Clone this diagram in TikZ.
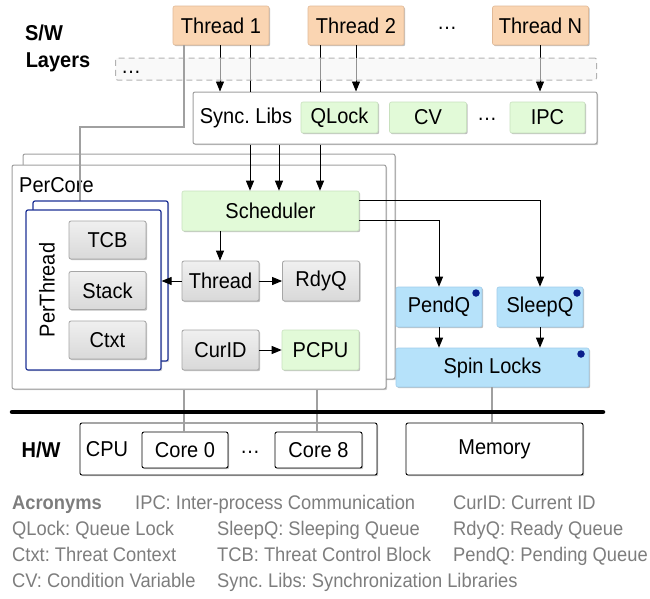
\documentclass[tikz,border=0pt]{standalone}
\usepackage{fontspec}
\setmainfont{Liberation Sans}[FakeStretch=0.93]
\usetikzlibrary{arrows.meta,shadows}
\definecolor{thrfill}{RGB}{250,213,178}
\definecolor{thrdraw}{RGB}{225,185,150}
\definecolor{grnfill}{RGB}{226,250,216}
\definecolor{grndraw}{RGB}{200,225,190}
\definecolor{blufill}{RGB}{182,226,250}
\definecolor{bludraw}{RGB}{160,205,235}
\definecolor{dotblue}{RGB}{10,30,140}
\definecolor{ptblue}{RGB}{30,50,150}
\definecolor{acrgray}{RGB}{125,125,125}
\definecolor{linegray}{RGB}{160,160,160}
\tikzset{
  base/.style={rectangle, rounded corners=2pt, inner sep=0pt, font=\fontsize{21.5}{25}\selectfont,
    drop shadow={shadow xshift=1.2pt, shadow yshift=-1.2pt, opacity=0.25, fill=black}},
  thr/.style={base, fill=thrfill, draw=thrdraw, line width=0.6pt, minimum width=96pt, minimum height=39pt},
  grn/.style={base, fill=grnfill, draw=grndraw, line width=0.6pt},
  gry/.style={base, top color=gray!12, bottom color=gray!30, draw=gray!70, line width=0.8pt, minimum width=77pt},
  blu/.style={base, fill=blufill, draw=bludraw, line width=0.6pt},
  frame/.style={rectangle, rounded corners=2pt, fill=white, draw=gray!75, line width=1pt, inner sep=0pt,
    drop shadow={shadow xshift=1.2pt, shadow yshift=-1.2pt, opacity=0.2, fill=black}},
  ptbox/.style={rectangle, rounded corners=2pt, fill=white, draw=ptblue, line width=1.2pt, inner sep=0pt,
    drop shadow={shadow xshift=1.2pt, shadow yshift=-1.2pt, opacity=0.2, fill=black}},
  hwbox/.style={rectangle, rounded corners=2pt, fill=white, draw=black, line width=0.9pt, inner sep=0pt,
    font=\fontsize{21.5}{25}\selectfont,
    drop shadow={shadow xshift=1.2pt, shadow yshift=-1.2pt, opacity=0.25, fill=black}},
  txt/.style={inner sep=0pt, font=\fontsize{21.5}{25}\selectfont},
  bold/.style={inner sep=0pt, font=\fontsize{21.5}{25}\selectfont\bfseries},
  acr/.style={inner sep=0pt, anchor=base west, text=acrgray, font=\fontsize{19.7}{23}\selectfont},
  arr/.style={-{Triangle[length=10pt,width=8pt]}, line width=0.9pt},
  gline/.style={draw=linegray, line width=1.4pt},
  dotm/.style={circle, fill=dotblue, inner sep=0pt, minimum size=7.5pt},
}
\begin{document}
\frenchspacing
\begin{tikzpicture}[x=1pt,y=-1pt]
\useasboundingbox (0,0) rectangle (650,598);
% ---------- S/W layers label
\node[bold] (sw) at (44,33) {S/W};
\node[bold] (lay) at (58,62) {Layers};
% ---------- threads
\node[thr] (t1) at (221,25.5) {Thread 1};
\node[thr] (t2) at (356,25.5) {Thread 2};
\node[txt] (tdots) at (447,28) {\dots};
\node[thr] (tN) at (540.5,25.5) {Thread N};
% ---------- sync libs
\node[frame, minimum width=404pt, minimum height=52pt] (sync) at (395,118) {};
\node[txt] (synct) at (246,118) {Sync. Libs};
\node[grn, minimum width=77pt, minimum height=31pt] (qlock) at (339.5,117.5) {QLock};
\node[grn, minimum width=77pt, minimum height=31pt] (cv) at (428,117.5) {CV};
\node[txt] (sdots) at (487,119) {\dots};
\node[grn, minimum width=75pt, minimum height=31pt] (ipc) at (547.5,117.5) {IPC};
% ---------- thread arrows (through dashed layer)
\draw[arr] (t1.south -| 220,0) -- (sync.north -| 220,0);
\draw[arr] (t2.south -| 356,0) -- (sync.north -| 356,0);
\draw[arr] (tN.south -| 540,0) -- (sync.north -| 540,0);
\draw[line width=0.9pt] (t1.south -| 250,0) -- (sync.north -| 250,0);
\draw[line width=0.9pt] (t2.south -| 320,0) -- (sync.north -| 320,0);
% dashed layer
\node[rectangle, rounded corners=2pt, draw=gray!60, dashed, dash pattern=on 6pt off 4pt, line width=1pt,
  fill=gray!8, fill opacity=0.6, minimum width=481pt, minimum height=22pt, inner sep=0pt] (dash) at (356,69) {};
\node[txt] (ddots) at (131,72) {\dots};
% ---------- PerCore
\node[frame, minimum width=372pt, minimum height=225pt] (pcback) at (209,266.5) {};
\node[frame, minimum width=374pt, minimum height=224pt] (pc) at (199,277) {};
\node[txt, anchor=west] (pct) at (19,185) {PerCore};
% Thread 1 gray link to PerThread
\draw[gline] (t1.south -| 184,0) -- (184,127) -- (80,127) -- (80,210);
% PerThread stack
\node[ptbox, minimum width=135pt, minimum height=160pt] (ptback) at (100.5,281) {};
\node[ptbox, minimum width=135pt, minimum height=160pt] (pt) at (93.5,290) {};
\node[txt, rotate=90] (ptt) at (47,290) {PerThread};
\node[gry, minimum height=38pt] (tcb) at (107.5,240) {TCB};
\node[gry, minimum height=38pt] (stack) at (107.5,290.5) {Stack};
\node[gry, minimum height=38pt] (ctxt) at (107.5,340) {Ctxt};
% scheduler etc
\node[grn, minimum width=177pt, minimum height=40pt] (sched) at (270.5,211) {Scheduler};
\node[gry, minimum height=40pt] (thread) at (220.5,281) {Thread};
\node[gry, minimum height=40pt] (rdyq) at (321,281) {RdyQ};
\node[gry, minimum height=40pt] (curid) at (220.5,350) {CurID};
\node[grn, minimum width=77pt, minimum height=40pt] (pcpu) at (320.5,350) {PCPU};
% arrows into scheduler
\draw[arr] (sync.south -| 250,0) -- (sched.north -| 250,0);
\draw[arr] (sync.south -| 279,0) -- (sched.north -| 279,0);
\draw[arr] (sync.south -| 320,0) -- (sched.north -| 320,0);
\draw[arr] (sched.south -| 220,0) -- (thread.north -| 220,0);
\draw[arr] (thread.west) -- (pt.east |- thread.west);
\draw[arr] (thread.east) -- (rdyq.west);
\draw[arr] (curid.east) -- (pcpu.west);
% ---------- queues
\node[blu, minimum width=86pt, minimum height=40pt] (pendq) at (439,307) {PendQ};
\node[blu, minimum width=86pt, minimum height=40pt] (sleepq) at (540,307) {SleepQ};
\node[blu, minimum width=193pt, minimum height=39pt] (spin) at (492.5,367.5) {Spin Locks};
\node[dotm] (d1) at (476,293) {};
\node[dotm] (d2) at (577,293) {};
\node[dotm] (d3) at (581,354) {};
\draw[arr] (sched.east |- 0,200) -- (540,200) -- (sleepq.north);
\draw[arr] (sched.east |- 0,220) -- (439,220) -- (pendq.north);
\draw[arr] (pendq.south) -- (spin.north -| pendq.south);
\draw[arr] (sleepq.south) -- (spin.north -| sleepq.south);
% ---------- hardware
\node[hwbox, minimum width=297pt, minimum height=52pt] (cpu) at (228.5,449) {};
\node[txt] (cput) at (107,449) {CPU};
\node[hwbox, minimum width=86pt, minimum height=36pt] (core0) at (185,450) {Core 0};
\node[txt] (cdots) at (250,452) {\dots};
\node[hwbox, minimum width=87pt, minimum height=36pt] (core8) at (318.5,450) {Core 8};
\node[hwbox, minimum width=177pt, minimum height=52pt] (mem) at (494.5,449) {Memory};
\node[bold] (hw) at (41,450) {H/W};
\coordinate (busl) at (12,412);
\coordinate (busr) at (603,412);
\draw[gline] (pc.south -| 184,0) -- (core0.north -| 184,0);
\draw[gline] (pc.south -| 317,0) -- (core8.north -| 317,0);
\draw[gline] (spin.south -| 492,0) -- (mem.north -| 492,0);
\draw[line width=4.5pt, line cap=round] (busl) -- (busr);
% ---------- acronyms
\node[acr, font=\fontsize{19.7}{23}\selectfont\bfseries] (a0) at (12,509) {Acronyms};
\node[acr] (a1) at (135,509) {IPC: Inter-process Communication};
\node[acr] (a2) at (453,509) {CurID: Current ID};
\node[acr] (a3) at (12,535) {QLock: Queue Lock};
\node[acr] (a4) at (217,535) {SleepQ: Sleeping Queue};
\node[acr] (a5) at (453,535) {RdyQ: Ready Queue};
\node[acr] (a6) at (12,561) {Ctxt: Threat Context};
\node[acr] (a7) at (217,561) {TCB: Threat Control Block};
\node[acr] (a8) at (453,561) {PendQ: Pending Queue};
\node[acr] (a9) at (12,587) {CV: Condition Variable};
\node[acr] (a10) at (217,587) {Sync. Libs: Synchronization Libraries};
\end{tikzpicture}
\end{document}
